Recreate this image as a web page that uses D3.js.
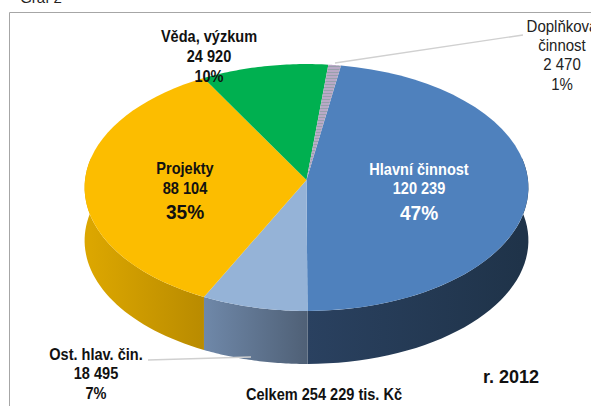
<!DOCTYPE html>
<html>
<head>
<meta charset="utf-8">
<script src="https://cdn.jsdelivr.net/npm/d3@7"></script>
<style>
  html, body { margin: 0; padding: 0; background: #fff; overflow: hidden; }
  text { font-family: "Liberation Sans", Arial, sans-serif; text-anchor: middle; }
</style>
</head>
<body>
<div id="chart"></div>
<script>
// data
const categories = ['Hlavní činnost', 'Ost. hlav. čin.', 'Projekty', 'Věda, výzkum', 'Doplňková'];
const values = [120239, 18495, 88104, 24920, 2470];
const valueLabels = ['120 239', '18 495', '88 104', '24 920', '2 470'];
const percentLabels = ['47%', '7%', '35%', '10%', '1%'];
const topColors = ['#4f81bd', '#95b3d7', '#fcbd00', '#00b050', 'url(#stripes)'];
const sideColors = [['#2a4160', '#1f3349'], ['#6f88a9', '#4f6076'], ['#dba600', '#b98b00'], ['#00863d', '#00863d'], ['#8a7c95', '#8a7c95']];

const width = 591;
const height = 406;
const depth = 53;
const startAngle = 9.5 * Math.PI / 180;
// tilt of the pie, near side of the disc looks a bit bigger
const tilt = 0.0607;

const svg = d3.select('#chart')
    .append('svg')
    .attr('width', width)
    .attr('height', height);

const x = d3.scaleLinear().domain([-1, 1]).range([85, 528]);
const y = d3.scaleLinear().domain([-1, 1]).range([57, 303]);

const project = a => {
    const u = Math.sin(a);
    const v = -Math.cos(a);
    const w = 1 - tilt * v;
    return [x(u / w), y(v / w)];
};

const pie = d3.pie()
    .sort(null)
    .startAngle(startAngle)
    .endAngle(startAngle + 2 * Math.PI);
const arcs = pie(values);

const defs = svg.append('defs');
const stripes = defs.append('pattern')
    .attr('id', 'stripes')
    .attr('patternUnits', 'userSpaceOnUse')
    .attr('width', 6)
    .attr('height', 3);
stripes.append('rect').attr('width', 6).attr('height', 3).attr('fill', '#b9a9c6');
stripes.append('rect').attr('width', 6).attr('height', 1).attr('fill', '#98a0ac');

// frame
svg.append('path')
    .attr('d', d3.line()([[9.5, height], [9.5, 12.5], [width, 12.5]]))
    .attr('fill', 'none')
    .attr('stroke', '#a6a6a6')
    .attr('stroke-width', 1);

const sample = (a0, a1) => d3.range(0, 41).map(i => a0 + (a1 - a0) * i / 40);

// side wall of the disc, only the part facing us
const wall = d3.area()
    .x(a => project(a)[0])
    .y0(a => project(a)[1])
    .y1(a => project(a)[1] + depth);

arcs.forEach((d, i) => {
    const a0 = Math.max(d.startAngle, Math.PI * 0.44);
    const a1 = Math.min(d.endAngle, Math.PI * 1.56);
    if (a1 <= a0) return;
    const id = 'side' + i;
    const grad = defs.append('linearGradient')
        .attr('id', id)
        .attr('gradientUnits', 'userSpaceOnUse')
        .attr('x1', project(a1)[0])
        .attr('x2', project(a0)[0])
        .attr('y1', 0)
        .attr('y2', 0);
    grad.append('stop').attr('offset', 0).attr('stop-color', sideColors[i][0]);
    grad.append('stop').attr('offset', 1).attr('stop-color', sideColors[i][1]);
    svg.append('path')
        .attr('d', wall(sample(a0, a1)))
        .attr('fill', `url(#${id})`);
});

// top of the disc
const centre = [x(0), y(0)];
arcs.forEach((d, i) => {
    const pts = [centre].concat(sample(d.startAngle, d.endAngle).map(project));
    svg.append('path')
        .attr('d', d3.line()(pts) + 'Z')
        .attr('fill', topColors[i]);
});

// leader lines
const leaders = [
    [[335, 63], [523, 35]],
    [[148, 360], [251, 357]]
];
leaders.forEach(l => {
    svg.append('path')
        .attr('d', d3.line()(l))
        .attr('fill', 'none')
        .attr('stroke', '#d0d0d0')
        .attr('stroke-width', 1.3);
});

// reference text is tall and narrow, so squeeze it a bit
const label = (cx, cy, txt, size, weight, fill, squeeze = 0.91) => {
    svg.append('text')
        .attr('transform', `translate(${cx},${cy}) scale(${squeeze},1)`)
        .attr('font-size', size)
        .attr('font-weight', weight)
        .attr('fill', fill)
        .text(txt);
};

label(41, 3, 'Graf 2', 15, 'normal', '#222', 1);

label(419, 175, categories[0], 16, 'bold', '#fff');
label(419, 194, valueLabels[0], 16, 'bold', '#fff');
label(419, 220, percentLabels[0], 21, 'bold', '#fff');

label(96, 360, categories[1], 16, 'bold', '#111');
label(96, 379, valueLabels[1], 16, 'bold', '#111');
label(96, 399, percentLabels[1], 16, 'bold', '#111');

label(185, 174, categories[2], 16, 'bold', '#111');
label(185, 194, valueLabels[2], 16, 'bold', '#111');
label(185, 219, percentLabels[2], 21, 'bold', '#111');

label(209, 42, categories[3], 16, 'bold', '#111');
label(209, 62, valueLabels[3], 16, 'bold', '#111');
label(209, 82, percentLabels[3], 16, 'bold', '#111');

label(562, 32, categories[4], 16.5, 'normal', '#222');
label(562, 51, 'činnost', 16.5, 'normal', '#222');
label(562, 70, valueLabels[4], 16.5, 'normal', '#222');
label(562, 90, percentLabels[4], 16.5, 'normal', '#222');

label(324, 400, 'Celkem 254 229 tis. Kč', 16, 'bold', '#111');
label(511, 383, 'r. 2012', 19, 'bold', '#111', 0.95);
</script>
</body>
</html>
